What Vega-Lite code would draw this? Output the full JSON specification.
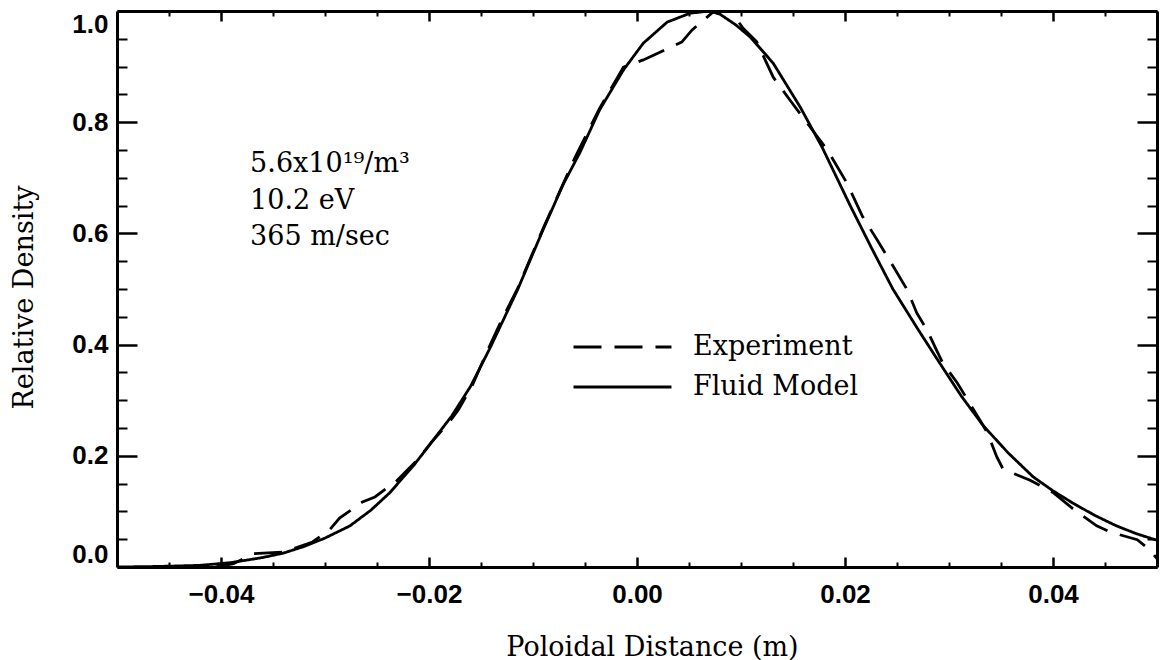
{
  "$schema": "https://vega.github.io/schema/vega-lite/v6.json",
  "width": 1040,
  "height": 556,
  "autosize": "none",
  "padding": {"left": 117, "top": 11, "right": 4, "bottom": 93},
  "background": "white",
  "config": {
    "view": {"stroke": null},
    "axis": {"grid": false, "domainColor": "black", "tickColor": "black", "domainWidth": 3, "labelColor": "black", "titleColor": "black"}
  },
  "datasets": {
    "curves": [
      {"series": "Fluid Model", "x": -0.0500, "y": 0.000},
      {"series": "Fluid Model", "x": -0.0460, "y": 0.001},
      {"series": "Fluid Model", "x": -0.0420, "y": 0.003},
      {"series": "Fluid Model", "x": -0.0390, "y": 0.008},
      {"series": "Fluid Model", "x": -0.0360, "y": 0.017},
      {"series": "Fluid Model", "x": -0.0340, "y": 0.025},
      {"series": "Fluid Model", "x": -0.0320, "y": 0.037},
      {"series": "Fluid Model", "x": -0.0300, "y": 0.052},
      {"series": "Fluid Model", "x": -0.0276, "y": 0.074},
      {"series": "Fluid Model", "x": -0.0256, "y": 0.102},
      {"series": "Fluid Model", "x": -0.0238, "y": 0.133},
      {"series": "Fluid Model", "x": -0.0215, "y": 0.182},
      {"series": "Fluid Model", "x": -0.0196, "y": 0.228},
      {"series": "Fluid Model", "x": -0.0178, "y": 0.272},
      {"series": "Fluid Model", "x": -0.0160, "y": 0.325},
      {"series": "Fluid Model", "x": -0.0141, "y": 0.395},
      {"series": "Fluid Model", "x": -0.0115, "y": 0.498},
      {"series": "Fluid Model", "x": -0.0090, "y": 0.608},
      {"series": "Fluid Model", "x": -0.0071, "y": 0.688},
      {"series": "Fluid Model", "x": -0.0055, "y": 0.745},
      {"series": "Fluid Model", "x": -0.0036, "y": 0.822},
      {"series": "Fluid Model", "x": -0.0013, "y": 0.894},
      {"series": "Fluid Model", "x": 0.0006, "y": 0.942},
      {"series": "Fluid Model", "x": 0.0029, "y": 0.980},
      {"series": "Fluid Model", "x": 0.0051, "y": 0.996},
      {"series": "Fluid Model", "x": 0.0070, "y": 1.000},
      {"series": "Fluid Model", "x": 0.0080, "y": 0.994},
      {"series": "Fluid Model", "x": 0.0095, "y": 0.975},
      {"series": "Fluid Model", "x": 0.0109, "y": 0.953},
      {"series": "Fluid Model", "x": 0.0131, "y": 0.906},
      {"series": "Fluid Model", "x": 0.0157, "y": 0.827},
      {"series": "Fluid Model", "x": 0.0178, "y": 0.755},
      {"series": "Fluid Model", "x": 0.0205, "y": 0.650},
      {"series": "Fluid Model", "x": 0.0226, "y": 0.572},
      {"series": "Fluid Model", "x": 0.0246, "y": 0.500},
      {"series": "Fluid Model", "x": 0.0270, "y": 0.428},
      {"series": "Fluid Model", "x": 0.0291, "y": 0.367},
      {"series": "Fluid Model", "x": 0.0312, "y": 0.307},
      {"series": "Fluid Model", "x": 0.0333, "y": 0.254},
      {"series": "Fluid Model", "x": 0.0357, "y": 0.205},
      {"series": "Fluid Model", "x": 0.0381, "y": 0.162},
      {"series": "Fluid Model", "x": 0.0400, "y": 0.137},
      {"series": "Fluid Model", "x": 0.0419, "y": 0.115},
      {"series": "Fluid Model", "x": 0.0440, "y": 0.093},
      {"series": "Fluid Model", "x": 0.0461, "y": 0.074},
      {"series": "Fluid Model", "x": 0.0480, "y": 0.060},
      {"series": "Fluid Model", "x": 0.0500, "y": 0.048},
      {"series": "Experiment", "x": -0.0405, "y": 0.000},
      {"series": "Experiment", "x": -0.0388, "y": 0.006},
      {"series": "Experiment", "x": -0.0369, "y": 0.024},
      {"series": "Experiment", "x": -0.0340, "y": 0.027},
      {"series": "Experiment", "x": -0.0312, "y": 0.045},
      {"series": "Experiment", "x": -0.0295, "y": 0.068},
      {"series": "Experiment", "x": -0.0286, "y": 0.088},
      {"series": "Experiment", "x": -0.0264, "y": 0.117},
      {"series": "Experiment", "x": -0.0252, "y": 0.126},
      {"series": "Experiment", "x": -0.0231, "y": 0.155},
      {"series": "Experiment", "x": -0.0210, "y": 0.195},
      {"series": "Experiment", "x": -0.0196, "y": 0.228},
      {"series": "Experiment", "x": -0.0180, "y": 0.262},
      {"series": "Experiment", "x": -0.0172, "y": 0.282},
      {"series": "Experiment", "x": -0.0158, "y": 0.328},
      {"series": "Experiment", "x": -0.0144, "y": 0.388},
      {"series": "Experiment", "x": -0.0130, "y": 0.445},
      {"series": "Experiment", "x": -0.0115, "y": 0.500},
      {"series": "Experiment", "x": -0.0090, "y": 0.610},
      {"series": "Experiment", "x": -0.0060, "y": 0.735},
      {"series": "Experiment", "x": -0.0036, "y": 0.825},
      {"series": "Experiment", "x": -0.0013, "y": 0.899},
      {"series": "Experiment", "x": 0.0006, "y": 0.912},
      {"series": "Experiment", "x": 0.0020, "y": 0.924},
      {"series": "Experiment", "x": 0.0043, "y": 0.944},
      {"series": "Experiment", "x": 0.0053, "y": 0.966},
      {"series": "Experiment", "x": 0.0073, "y": 0.998},
      {"series": "Experiment", "x": 0.0090, "y": 1.000},
      {"series": "Experiment", "x": 0.0102, "y": 0.969},
      {"series": "Experiment", "x": 0.0115, "y": 0.945},
      {"series": "Experiment", "x": 0.0131, "y": 0.881},
      {"series": "Experiment", "x": 0.0147, "y": 0.840},
      {"series": "Experiment", "x": 0.0165, "y": 0.795},
      {"series": "Experiment", "x": 0.0183, "y": 0.750},
      {"series": "Experiment", "x": 0.0202, "y": 0.690},
      {"series": "Experiment", "x": 0.0217, "y": 0.630},
      {"series": "Experiment", "x": 0.0231, "y": 0.588},
      {"series": "Experiment", "x": 0.0245, "y": 0.545},
      {"series": "Experiment", "x": 0.0260, "y": 0.498},
      {"series": "Experiment", "x": 0.0269, "y": 0.457},
      {"series": "Experiment", "x": 0.0279, "y": 0.426},
      {"series": "Experiment", "x": 0.0288, "y": 0.390},
      {"series": "Experiment", "x": 0.0294, "y": 0.367},
      {"series": "Experiment", "x": 0.0308, "y": 0.331},
      {"series": "Experiment", "x": 0.0333, "y": 0.254},
      {"series": "Experiment", "x": 0.0337, "y": 0.241},
      {"series": "Experiment", "x": 0.0346, "y": 0.198},
      {"series": "Experiment", "x": 0.0352, "y": 0.176},
      {"series": "Experiment", "x": 0.0378, "y": 0.156},
      {"series": "Experiment", "x": 0.0400, "y": 0.134},
      {"series": "Experiment", "x": 0.0419, "y": 0.105},
      {"series": "Experiment", "x": 0.0442, "y": 0.074},
      {"series": "Experiment", "x": 0.0455, "y": 0.063},
      {"series": "Experiment", "x": 0.0481, "y": 0.049},
      {"series": "Experiment", "x": 0.0493, "y": 0.031},
      {"series": "Experiment", "x": 0.0500, "y": 0.015}
    ],
    "notes": [
      {"x": -0.0372, "y": 0.710, "text": "5.6x10¹⁹/m³"},
      {"x": -0.0372, "y": 0.644, "text": "10.2 eV"},
      {"x": -0.0372, "y": 0.579, "text": "365 m/sec"}
    ]
  },
  "resolve": {"axis": {"x": "independent", "y": "independent"}},
  "layer": [
    {
      "data": {"name": "curves"},
      "mark": {"type": "line", "color": "black", "strokeWidth": 2.8, "clip": true},
      "encoding": {
        "x": {"field": "x", "type": "quantitative",
          "scale": {"domain": [-0.05, 0.05], "nice": false, "zero": false},
          "axis": {"orient": "bottom", "values": [-0.04, -0.02, 0, 0.02, 0.04], "format": ".2f",
            "tickSize": -10, "tickWidth": 2.5, "labelPadding": 24, "labelFont": "Liberation Sans", "labelFontSize": 26, "labelFontWeight": "bold",
            "title": "Poloidal Distance (m)", "titleFont": "DejaVu Serif", "titleFontSize": 27, "titleFontWeight": "normal",
            "titleX": 535, "titleY": 88, "titleAlign": "center", "titleBaseline": "alphabetic"}},
        "y": {"field": "y", "type": "quantitative",
          "scale": {"domain": [0, 1], "nice": false, "zero": false},
          "axis": {"orient": "left", "values": [0, 0.2, 0.4, 0.6, 0.8, 1.0], "format": ".1f", "labelFlush": true,
            "tickSize": -20, "tickWidth": 2.5, "labelPadding": 29, "labelFont": "Liberation Sans", "labelFontSize": 26, "labelFontWeight": "bold",
            "title": "Relative Density", "titleFont": "DejaVu Serif", "titleFontSize": 27, "titleFontWeight": "normal",
            "titleX": -93, "titleY": 286, "titleAngle": -90, "titleAlign": "center", "titleBaseline": "middle"}},
        "detail": {"field": "series"},
        "strokeDash": {"field": "series", "type": "nominal",
          "scale": {"domain": ["Experiment", "Fluid Model"], "range": [[28, 13], [1, 0]]},
          "legend": {"orient": "none", "legendX": 455, "legendY": 316, "title": null,
            "symbolType": "stroke", "symbolSize": 9604, "symbolStrokeWidth": 2.8, "symbolStrokeColor": "black",
            "labelFont": "DejaVu Serif", "labelFontSize": 27, "labelColor": "black", "labelOffset": 20, "labelLimit": 400, "clipHeight": 40, "rowPadding": 0}}
      }
    },
    {
      "data": {"name": "notes"},
      "mark": {"type": "text", "align": "left", "baseline": "alphabetic", "font": "DejaVu Serif", "fontSize": 27, "color": "black"},
      "encoding": {
        "x": {"field": "x", "type": "quantitative",
          "axis": {"orient": "bottom", "values": [-0.045, -0.035, -0.03, -0.025, -0.015, -0.01, -0.005, 0.005, 0.01, 0.015, 0.025, 0.03, 0.035, 0.045],
            "tickSize": -5, "tickWidth": 2, "labels": false, "domain": false, "title": null}},
        "y": {"field": "y", "type": "quantitative",
          "axis": {"orient": "left", "values": [0.05, 0.1, 0.15, 0.25, 0.3, 0.35, 0.45, 0.5, 0.55, 0.65, 0.7, 0.75, 0.85, 0.9, 0.95],
            "tickSize": -10, "tickWidth": 2, "labels": false, "domain": false, "title": null}},
        "text": {"field": "text"}
      }
    },
    {
      "data": {"name": "curves"},
      "mark": {"type": "point", "opacity": 0},
      "encoding": {
        "x": {"field": "x", "type": "quantitative",
          "axis": {"orient": "top", "values": [-0.04, -0.02, 0, 0.02, 0.04], "tickSize": -10, "tickWidth": 2.5, "labels": false, "title": null}},
        "y": {"field": "y", "type": "quantitative",
          "axis": {"orient": "right", "values": [0, 0.2, 0.4, 0.6, 0.8, 1.0], "tickSize": -20, "tickWidth": 2.5, "labels": false, "title": null}}
      }
    },
    {
      "data": {"name": "curves"},
      "mark": {"type": "point", "opacity": 0},
      "encoding": {
        "x": {"field": "x", "type": "quantitative",
          "axis": {"orient": "top", "values": [-0.045, -0.035, -0.03, -0.025, -0.015, -0.01, -0.005, 0.005, 0.01, 0.015, 0.025, 0.03, 0.035, 0.045],
            "tickSize": -5, "tickWidth": 2, "labels": false, "domain": false, "title": null}},
        "y": {"field": "y", "type": "quantitative",
          "axis": {"orient": "right", "values": [0.05, 0.1, 0.15, 0.25, 0.3, 0.35, 0.45, 0.5, 0.55, 0.65, 0.7, 0.75, 0.85, 0.9, 0.95],
            "tickSize": -10, "tickWidth": 2, "labels": false, "domain": false, "title": null}}
      }
    }
  ]
}
